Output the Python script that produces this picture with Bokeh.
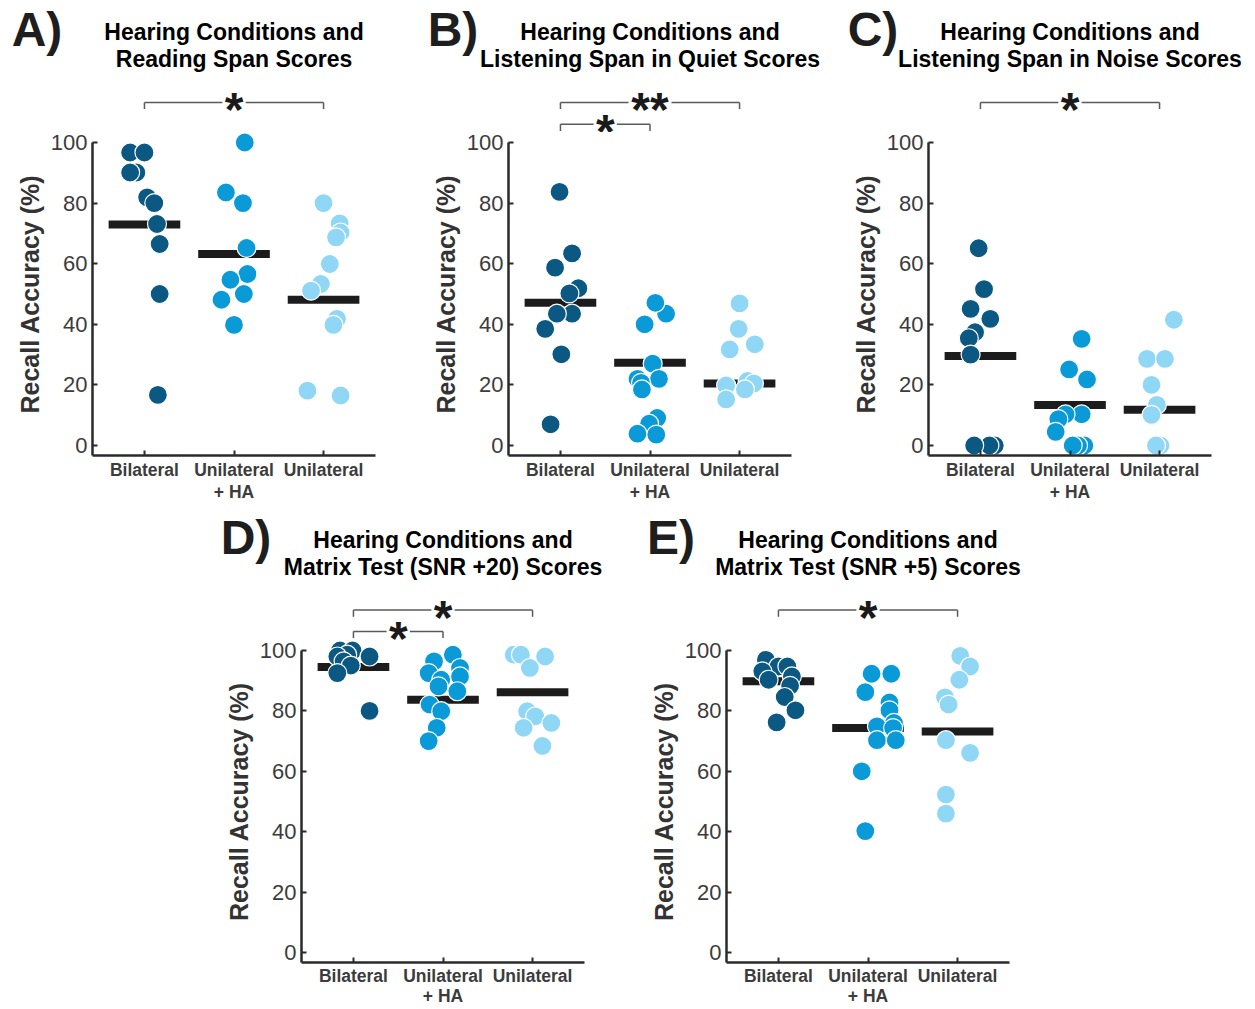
from bokeh.plotting import figure
from bokeh.models import Label, FixedTicker, Range1d, Spacer
from bokeh.layouts import row, column
from bokeh.embed import file_html
from bokeh.resources import INLINE

# ---------------- data ----------------
TICK_LABELS = ["Bilateral", "Unilateral\n+ HA", "Unilateral"]
Y_TICKS = [0, 20, 40, 60, 80, 100]
COLORS = ["#0b5883", "#0a9ad8", "#8fd7f4"]

# Panel A
A_TITLE = ["Hearing Conditions and", "Reading Span Scores"]
A_BIL = [96.7, 96.7, 90.1, 90.1, 81.9, 80.0, 73.1, 66.5, 50.0, 16.7]
A_BIL_JIT = [-0.16, 0.0, -0.09, -0.16, 0.03, 0.11, 0.14, 0.17, 0.17, 0.15]
A_UHA = [100.0, 83.5, 80.0, 65.2, 56.6, 54.7, 50.0, 48.1, 39.8]
A_UHA_JIT = [0.12, -0.09, 0.10, 0.14, 0.15, -0.04, 0.11, -0.14, 0.0]
A_UNI = [80.0, 73.3, 70.3, 68.7, 59.9, 53.3, 51.1, 41.8, 39.8, 18.1, 16.5]
A_UNI_JIT = [0.0, 0.18, 0.19, 0.14, 0.07, -0.03, -0.14, 0.15, 0.11, -0.18, 0.19]
A_MEANS = [72.9, 63.2, 48.1]
A_SIG = [(1, 3, 113.2, "*")]

# Panel B
B_TITLE = ["Hearing Conditions and", "Listening Span in Quiet Scores"]
B_BIL = [83.7, 63.4, 58.7, 51.9, 50.2, 43.5, 43.5, 38.5, 30.1, 7.0]
B_BIL_JIT = [-0.01, 0.13, -0.06, 0.20, 0.10, 0.13, -0.04, -0.17, 0.01, -0.11]
B_UHA = [43.5, 47.1, 40.0, 27.0, 22.0, 22.0, 20.7, 18.5, 9.1, 7.2, 3.9, 3.6]
B_UHA_JIT = [0.18, 0.06, -0.06, 0.03, -0.14, 0.10, -0.10, -0.09, 0.08, -0.01, -0.14, 0.07]
B_UNI = [46.9, 38.5, 33.4, 31.7, 21.3, 20.5, 19.8, 18.5, 15.2]
B_UNI_JIT = [0.0, -0.01, 0.17, -0.11, 0.09, 0.16, -0.15, 0.06, -0.15]
B_MEANS = [47.1, 27.3, 20.5]
B_SIG = [(1, 3, 113.2, "**"), (1, 2, 106.0, "*")]

# Panel C
C_TITLE = ["Hearing Conditions and", "Listening Span in Noise Scores"]
C_BIL = [65.1, 51.6, 45.1, 41.8, 37.4, 35.4, 30.0, 0.0, 0.0, 0.0]
C_BIL_JIT = [-0.02, 0.04, -0.11, 0.11, -0.06, -0.13, -0.11, 0.16, 0.10, -0.07]
C_UHA = [35.2, 25.1, 21.8, 10.3, 10.3, 8.7, 4.5, 0.0, 0.0, 0.0]
C_UHA_JIT = [0.13, -0.01, 0.19, 0.13, -0.05, -0.13, -0.16, 0.16, 0.09, 0.03]
C_UNI = [41.5, 28.6, 28.6, 20.0, 13.4, 10.1, 0.0, 0.0]
C_UNI_JIT = [0.16, -0.14, 0.06, -0.09, -0.03, -0.09, 0.01, -0.04]
C_MEANS = [29.5, 13.4, 11.8]
C_SIG = [(1, 3, 113.2, "*")]

# Panel D
D_TITLE = ["Hearing Conditions and", "Matrix Test (SNR +20) Scores"]
D_BIL = [100.0, 100.0, 98.6, 98.0, 98.0, 96.4, 95.0, 92.5, 80.0]
D_BIL_JIT = [-0.15, -0.01, -0.07, -0.18, 0.18, -0.11, -0.03, -0.18, 0.18]
D_UHA = [98.6, 96.4, 94.2, 92.5, 91.4, 90.3, 88.1, 86.5, 82.1, 79.9, 74.4, 70.0]
D_UHA_JIT = [0.11, -0.10, 0.19, -0.16, 0.19, -0.02, -0.05, 0.16, -0.15, -0.02, -0.07, -0.16]
D_UNI = [98.6, 98.6, 98.0, 94.2, 79.9, 78.2, 76.0, 74.4, 68.4]
D_UNI_JIT = [-0.21, -0.13, 0.14, -0.03, -0.06, 0.03, 0.21, -0.10, 0.11]
D_MEANS = [94.5, 83.7, 86.2]
D_SIG = [(1, 3, 113.3, "*"), (1, 2, 106.3, "*")]

# Panel E
E_TITLE = ["Hearing Conditions and", "Matrix Test (SNR +5) Scores"]
E_BIL = [96.9, 94.7, 94.7, 93.1, 90.3, 91.4, 88.3, 84.6, 80.2, 76.2]
E_BIL_JIT = [-0.14, 0.0, 0.10, -0.18, -0.11, 0.15, 0.13, 0.07, 0.19, -0.02]
E_UHA = [92.3, 92.3, 86.2, 82.8, 80.2, 76.0, 74.9, 74.3, 70.3, 70.3, 60.0, 40.2]
E_UHA_JIT = [0.04, 0.26, -0.03, 0.24, 0.24, 0.29, 0.10, 0.28, 0.10, 0.31, -0.07, -0.03]
E_UNI = [98.2, 94.7, 90.3, 84.5, 82.1, 70.3, 66.1, 52.3, 46.0]
E_UNI_JIT = [0.03, 0.14, 0.02, -0.14, -0.10, -0.13, 0.14, -0.13, -0.13]
E_MEANS = [89.8, 74.3, 73.2]
E_SIG = [(1, 3, 113.3, "*")]

# ---------------- styling ----------------
FONT = "Liberation Sans"
PX_Y = 3.04              # pixels per percentage point
FRAME_W = 283
X0, X1 = 0.42, 3.58
PX_X = FRAME_W / (X1 - X0)
Y0, Y1 = -3.3, 103.3
FRAME_H = int(round((Y1 - Y0) * PX_Y))
TICK_GRAY = "#3c3c3c"
TOTAL_W = 1250


def make_plot(groups, jits, means, left_b, right_b, bottom_b, lh, standoff):
    width = left_b + FRAME_W + right_b
    p = figure(width=width, height=FRAME_H + bottom_b,
               x_range=Range1d(X0, X1), y_range=Range1d(Y0, Y1),
               output_backend="svg", toolbar_location=None,
               min_border_left=left_b, min_border_right=right_b,
               min_border_top=0, min_border_bottom=bottom_b)
    p.outline_line_color = None
    p.grid.visible = False

    for ax in (p.xaxis[0], p.yaxis[0]):
        ax.axis_line_width = 2.5
        ax.axis_line_color = "#2a2a2a"
        ax.major_tick_line_color = "#2a2a2a"
        ax.major_tick_line_width = 2
        ax.major_tick_in = 5
        ax.major_tick_out = 0
        ax.minor_tick_line_color = None
    xa = p.xaxis[0]
    xa.ticker = FixedTicker(ticks=[1, 2, 3])
    xa.major_label_overrides = {i + 1: t for i, t in enumerate(TICK_LABELS)}
    xa.major_label_text_font = FONT
    xa.major_label_text_font_size = "17.5px"
    xa.major_label_text_font_style = "bold"
    xa.major_label_text_color = TICK_GRAY
    xa.major_label_text_line_height = lh
    xa.major_label_standoff = standoff
    ya = p.yaxis[0]
    ya.ticker = FixedTicker(ticks=Y_TICKS)
    ya.bounds = (Y0, 100)
    ya.major_label_text_font = FONT
    ya.major_label_text_font_size = "22px"
    ya.major_label_text_color = TICK_GRAY
    ya.major_label_standoff = 5
    ya.axis_label = "Recall Accuracy (%)"
    ya.axis_label_text_font = FONT
    ya.axis_label_text_font_size = "25px"
    ya.axis_label_text_font_style = "bold"
    ya.axis_label_text_color = "#333333"
    ya.axis_label_standoff = 4

    cats = [1, 2, 3]
    p.segment(x0=[c - 0.4 for c in cats], x1=[c + 0.4 for c in cats],
              y0=means, y1=means, line_width=8, line_color="#1c1c1c",
              line_cap="butt")
    for i, (vals, jit) in enumerate(zip(groups, jits)):
        xs = [cats[i] + j for j in jit]
        p.scatter(xs, vals, size=19, fill_color=COLORS[i], line_color="white",
                  line_width=1.2)
    return p


def make_header(panels, head_h):
    """panels: list of (offset_px, left_border, letter, title_lines, sigs)."""
    h = figure(width=TOTAL_W, height=head_h,
               x_range=Range1d(0, TOTAL_W), y_range=Range1d(head_h, 0),
               output_backend="svg", toolbar_location=None,
               x_axis_location=None, y_axis_location=None,
               min_border_left=0, min_border_right=0,
               min_border_top=0, min_border_bottom=0)
    h.outline_line_color = None
    h.grid.visible = False

    def sx(off, lb, v):
        return off + lb + (v - X0) * PX_X

    def sy(v):
        return head_h - (v - Y1) * PX_Y

    for (off, lb, letter, title, sigs) in panels:
        for (a, b, lvl, stars) in sigs:
            c = (a + b) / 2.0
            g = 0.13 if len(stars) == 1 else 0.24
            xa_, xb_, xc0, xc1 = sx(off, lb, a), sx(off, lb, b), sx(off, lb, c - g), sx(off, lb, c + g)
            yl, yt = sy(lvl), sy(lvl - 2.2)
            h.segment(x0=[xa_, xc1, xa_, xb_], x1=[xc0, xb_, xa_, xb_],
                      y0=[yl, yl, yl, yl], y1=[yl, yl, yt, yt],
                      line_color="#5a5a5a", line_width=1.5)
            h.add_layout(Label(x=sx(off, lb, c), y=sy(lvl - 2.4), text=stars,
                               text_font=FONT, text_font_size="48px",
                               text_font_style="bold", text_color="#1a1a1a",
                               text_align="center", text_baseline="alphabetic"))
        h.add_layout(Label(x=sx(off, lb, 2), y=sy(136.3), text=title[0], text_font=FONT,
                           text_font_size="23px", text_font_style="bold",
                           text_color="black", text_align="center", text_baseline="middle"))
        h.add_layout(Label(x=sx(off, lb, 2), y=sy(127.4), text=title[1], text_font=FONT,
                           text_font_size="23px", text_font_style="bold",
                           text_color="black", text_align="center", text_baseline="middle"))
        h.add_layout(Label(x=sx(off, lb, -0.2), y=sy(137.2), text=letter, text_font=FONT,
                           text_font_size="48px", text_font_style="bold",
                           text_color="#1e1e1e", text_align="center", text_baseline="middle"))
    return h


pA = make_plot([A_BIL, A_UHA, A_UNI], [A_BIL_JIT, A_UHA_JIT, A_UNI_JIT], A_MEANS, 92, 49, 48, 1.1, 4)
pB = make_plot([B_BIL, B_UHA, B_UNI], [B_BIL_JIT, B_UHA_JIT, B_UNI_JIT], B_MEANS, 84, 53, 48, 1.1, 4)
pC = make_plot([C_BIL, C_UHA, C_UNI], [C_BIL_JIT, C_UHA_JIT, C_UNI_JIT], C_MEANS, 84, 39, 48, 1.1, 4)
pD = make_plot([D_BIL, D_UHA, D_UNI], [D_BIL_JIT, D_UHA_JIT, D_UNI_JIT], D_MEANS, 84, 58, 44, 1.0, 3)
pE = make_plot([E_BIL, E_UHA, E_UNI], [E_BIL_JIT, E_UHA_JIT, E_UNI_JIT], E_MEANS, 84, 40, 44, 1.0, 3)

h1 = make_header([(0, 92, "A)", A_TITLE, A_SIG),
                  (424, 84, "B)", B_TITLE, B_SIG),
                  (844, 84, "C)", C_TITLE, C_SIG)], 132)
h2 = make_header([(217, 84, "D)", D_TITLE, D_SIG),
                  (642, 84, "E)", E_TITLE, E_SIG)], 136)

layout = column(h1, row(pA, pB, pC), h2,
                row(Spacer(width=217, height=10), pD, pE))

with open("out.html", "w") as f:
    f.write(file_html(layout, INLINE))
